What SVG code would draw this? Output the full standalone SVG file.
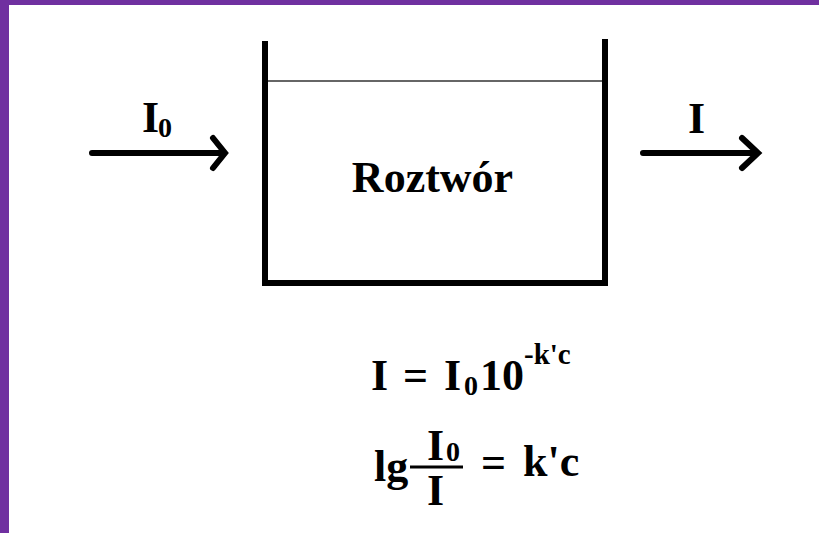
<svg xmlns="http://www.w3.org/2000/svg" width="819" height="533" viewBox="0 0 819 533">
<style>
.t{font-family:"Liberation Serif","Times New Roman",serif;font-weight:bold;font-size:44px;fill:#000}
.s{font-size:28px}
.sup{font-size:29px}
.arrow{fill:none;stroke:#000;stroke-width:6;stroke-linecap:round;stroke-linejoin:miter}
.wall{fill:none;stroke:#000;stroke-width:6;stroke-linejoin:miter}
</style>
<rect x="0" y="0" width="819" height="533" fill="#fff"/>
<rect x="0" y="0" width="819" height="5" fill="#7030A0"/>
<rect x="0" y="0" width="9" height="533" fill="#7030A0"/>
<g id="connectors">
<path class="arrow" d="M92,153 H223 M213,138 L225,153 L213,168"/>
<path class="arrow" d="M643,153 H756 M742,138 L758,153 L742,168"/>
</g>
<g id="label-in">
<text class="t" x="142" y="132">I<tspan class="s" x="158" y="137">0</tspan></text>
</g>
<g id="label-out">
<text class="t" x="688" y="133">I</text>
</g>
<g id="vessel">
<path class="wall" d="M265,41 V283 H605 V39"/>
<line x1="268" y1="81" x2="602" y2="81" stroke="#333" stroke-width="1.5"/>
<text class="t" x="432.5" y="192" text-anchor="middle">Roztwór</text>
</g>
<g id="equation1">
<text class="t" x="371" y="390">I</text>
<text class="t" x="403" y="390">=</text>
<text class="t" x="444" y="390">I</text>
<text class="t s" x="464" y="395">0</text>
<text class="t" x="480" y="390">10</text>
<text class="t sup" x="524" y="364">-k'c</text>
</g>
<g id="equation2">
<text class="t" x="374" y="481">lg</text>
<line x1="410" y1="467" x2="463" y2="467" stroke="#000" stroke-width="3"/>
<text class="t" x="427" y="460">I</text>
<text class="t s" x="446" y="461">0</text>
<text class="t" x="427" y="505">I</text>
<text class="t" x="481" y="477">=</text>
<text class="t" x="523" y="476">k'c</text>
</g>
</svg>
